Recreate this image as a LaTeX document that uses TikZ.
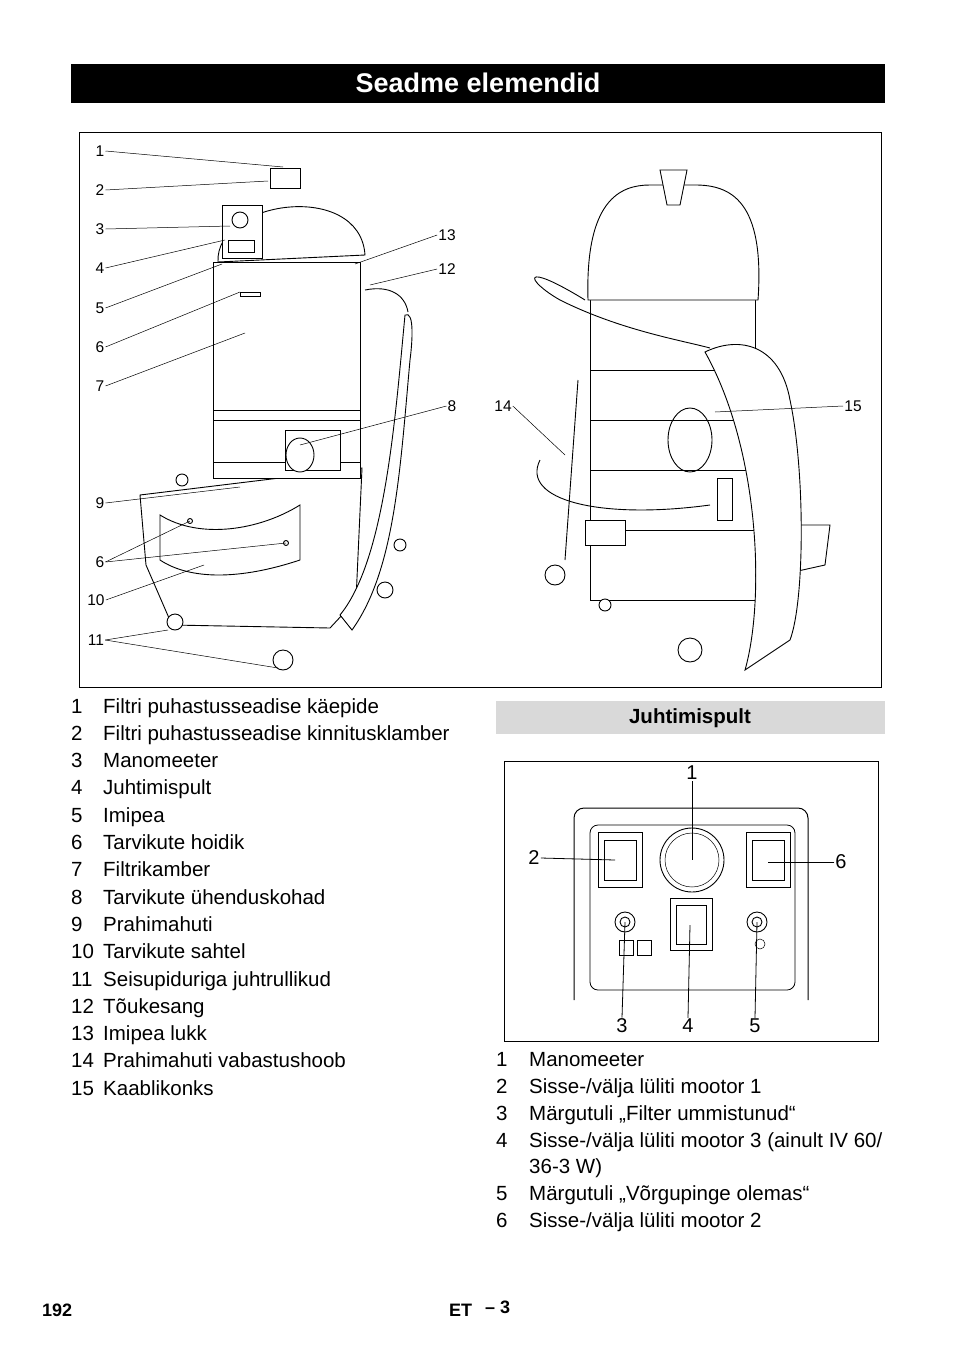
\documentclass[tikz,border=0pt]{standalone}
\usepackage{fontspec}
\setmainfont{Liberation Sans}
\tikzset{
  x=1pt, y=-1pt,
  callout/.style={font=\fontsize{15.5}{18}\selectfont, inner sep=1pt},
  lead/.style={line width=0.5pt},
  part/.style={line width=0.9pt, fill=white},
  item/.style={anchor=base west, font=\fontsize{20.5}{24}\selectfont, inner sep=0pt},
}
\begin{document}
\begin{tikzpicture}
\useasboundingbox (0,0) rectangle (954,1354);

% header
\fill (71,64) rectangle (885,103);
\node[text=white, font=\bfseries\fontsize{27}{30}\selectfont] (title) at (478,83) {Seadme elemendid};

% picture frame
\draw[line width=0.6pt] (79,132) rectangle (881,687);

% left machine
\draw[part] (140,495) -- (362,468) -- (356,600) -- (330,628) -- (172,625) -- (146,565) -- cycle;
\draw[part] (213,262) rectangle (360,478);
\draw[line width=0.7pt] (213,410) -- (360,410) (213,420) -- (360,420) (213,462) -- (360,462);
\draw[part] (285,430) rectangle (340,470);
\draw[part] (300,455) ellipse (14 and 17);
\draw[part] (218,262) .. controls (215,200) and (360,180) .. (365,255) -- cycle;
\draw[part] (222,205) rectangle (262,258);
\draw[part] (240,220) circle (8);
\draw[part] (228,240) rectangle (254,252);
\draw[part] (270,168) rectangle (300,188);
\draw[part] (240,292) rectangle (260,296);
\draw[part] (160,515) .. controls (200,540) and (260,530) .. (300,505) -- (300,560) .. controls (240,580) and (190,580) .. (160,560) -- cycle;
\draw[part] (340,615) .. controls (385,560) and (395,420) .. (405,315) .. controls (415,310) and (412,345) .. (410,360) .. controls (400,470) and (395,570) .. (352,630) -- cycle;
\draw[line width=0.9pt] (365,290) .. controls (390,285) and (405,295) .. (408,312);
\draw[part] (182,480) circle (6);
\draw[part] (190,521) circle (2.5);
\draw[part] (286,543) circle (2.5);
\foreach \cx/\cy/\r in {175/622/8, 283/660/10, 385/590/8, 400/545/6}
  \draw[part] (\cx,\cy) circle (\r);

% right machine
\draw[part] (590,290) rectangle (755,600);
\draw[line width=0.7pt] (590,370) -- (755,370) (590,420) -- (755,420) (590,470) -- (755,470) (590,530) -- (755,530);
\draw[part] (588,300) .. controls (585,200) and (620,185) .. (650,185) -- (695,185) .. controls (730,185) and (765,200) .. (758,300) -- cycle;
\draw[part] (660,170) -- (687,170) -- (680,205) -- (667,205) -- cycle;
\draw[line width=0.9pt] (585,300) .. controls (520,260) and (525,280) .. (560,300) .. controls (620,330) and (680,340) .. (710,348);
\draw[line width=0.9pt] (578,380) -- (565,560);
\draw[line width=0.9pt] (540,460) .. controls (520,500) and (600,520) .. (710,505);
\draw[line width=0.9pt] (690,440) ellipse (22 and 32);
\draw[part] (717,478) rectangle (732,520);
\draw[part] (760,525) -- (830,525) -- (825,565) -- (780,575) -- cycle;
\draw[part] (705,352) .. controls (740,335) and (780,345) .. (790,400) .. controls (805,470) and (805,600) .. (790,640) -- (745,670) .. controls (765,600) and (760,450) .. cycle;
\draw[part] (585,520) rectangle (625,545);
\foreach \cx/\cy/\r in {555/575/10, 690/650/12, 605/605/6}
  \draw[part] (\cx,\cy) circle (\r);

% callout labels
\foreach \n/\lx/\ly in {1/100/151, 2/100/190, 3/100/229, 4/100/268, 5/100/308, 6/100/347,
    7/100/386, 9/100/503, 6/100/562, 10/96/600, 11/96/640}
  \node[callout] (c\n-\ly) at (\lx,\ly) {\n};
\node[callout] (c8) at (452,406) {8};
\node[callout] (c12) at (447,269) {12};
\node[callout] (c13) at (447,235) {13};
\node[callout] (c14) at (503,406) {14};
\node[callout] (c15) at (853,406) {15};

\coordinate (p1) at (283,167);
\coordinate (p2) at (268,181);
\coordinate (p3) at (230,226);
\coordinate (p4) at (225,240);
\coordinate (p5) at (222,264);
\coordinate (p6) at (240,292);
\coordinate (p7) at (245,333);
\coordinate (p8) at (300,445);
\coordinate (p9) at (240,487);
\coordinate (p6a) at (190,521);
\coordinate (p6b) at (286,543);
\coordinate (p10) at (204,565);
\coordinate (p11a) at (168,630);
\coordinate (p11b) at (278,668);
\coordinate (p12) at (370,285);
\coordinate (p13) at (355,264);
\coordinate (p14) at (565,455);
\coordinate (p15) at (715,412);

\draw[lead] (c1-151.east) -- (p1);
\draw[lead] (c2-190.east) -- (p2);
\draw[lead] (c3-229.east) -- (p3);
\draw[lead] (c4-268.east) -- (p4);
\draw[lead] (c5-308.east) -- (p5);
\draw[lead] (c6-347.east) -- (p6);
\draw[lead] (c7-386.east) -- (p7);
\draw[lead] (c8.west) -- (p8);
\draw[lead] (c9-503.east) -- (p9);
\draw[lead] (c6-562.east) -- (p6a);
\draw[lead] (c6-562.east) -- (p6b);
\draw[lead] (c10-600.east) -- (p10);
\draw[lead] (c11-640.east) -- (p11a);
\draw[lead] (c11-640.east) -- (p11b);
\draw[lead] (c12.west) -- (p12);
\draw[lead] (c13.west) -- (p13);
\draw[lead] (c14.east) -- (p14);
\draw[lead] (c15.west) -- (p15);

% left list
\foreach \n/\t [count=\i from 0] in {1/{Filtri puhastusseadise käepide},
    2/{Filtri puhastusseadise kinnitusklamber}, 3/{Manomeeter}, 4/{Juhtimispult},
    5/{Imipea}, 6/{Tarvikute hoidik}, 7/{Filtrikamber}, 8/{Tarvikute ühenduskohad},
    9/{Prahimahuti}, 10/{Tarvikute sahtel}, 11/{Seisupiduriga juhtrullikud},
    12/{Tõukesang}, 13/{Imipea lukk}, 14/{Prahimahuti vabastushoob}, 15/{Kaablikonks}} {
  \node[item] (ln\n) at (71,713+27.3*\i) {\n};
  \node[item] (lt\n) at (103,713+27.3*\i) {\t};
}

% control panel section
\fill[gray!30] (496,701) rectangle (885,734);
\node[font=\bfseries\fontsize{20.5}{24}\selectfont] (sub) at (690,718) {Juhtimispult};
\draw[line width=0.6pt] (504,761) rectangle (878,1041);

\draw[line width=1pt] (574,1000) -- (574,818) arc[start angle=180, end angle=270, radius=10] -- (798,808) arc[start angle=270, end angle=360, radius=10] -- (808,1000);
\draw[line width=0.8pt, rounded corners=8] (590,825) rectangle (795,990);
\draw[part] (598,832) rectangle (642,887);
\draw[part] (604,840) rectangle (636,880);
\draw[part] (746,832) rectangle (790,887);
\draw[part] (752,840) rectangle (784,880);
\draw[part] (692,860) circle (32);
\draw[line width=0.5pt] (692,860) circle (27);
\draw[part] (670,898) rectangle (712,950);
\draw[part] (676,905) rectangle (706,944);
\draw[part] (625,922) circle (10);
\draw[part] (625,922) circle (5);
\draw[part] (757,922) circle (10);
\draw[part] (757,922) circle (5);
\draw[line width=0.5pt] (619,940) rectangle (633,955) (637,940) rectangle (651,955);
\draw[line width=0.5pt] (760,944) circle (5);

\node[callout, font=\fontsize{20}{22}\selectfont] (k1) at (692,773) {1};
\node[callout, font=\fontsize{20}{22}\selectfont] (k2) at (534,858) {2};
\node[callout, font=\fontsize{20}{22}\selectfont] (k6) at (841,862) {6};
\node[callout, font=\fontsize{20}{22}\selectfont] (k3) at (622,1026) {3};
\node[callout, font=\fontsize{20}{22}\selectfont] (k4) at (688,1026) {4};
\node[callout, font=\fontsize{20}{22}\selectfont] (k5) at (755,1026) {5};
\coordinate (q1) at (692,860);
\coordinate (q2) at (615,860);
\coordinate (q6) at (768,862);
\coordinate (q3) at (625,922);
\coordinate (q4) at (690,925);
\coordinate (q5) at (757,922);
\draw[line width=0.8pt] (k1.south) -- (q1);
\draw[line width=0.8pt] (k2.east) -- (q2);
\draw[line width=0.8pt] (k6.west) -- (q6);
\draw[line width=0.8pt] (k3.north) -- (q3);
\draw[line width=0.8pt] (k4.north) -- (q4);
\draw[line width=0.8pt] (k5.north) -- (q5);

% right list
\foreach \n/\t/\yy in {1/{Manomeeter}/1066, 2/{Sisse-/välja lüliti mootor 1}/1093,
    3/{Märgutuli „Filter ummistunud“}/1120, 4/{Sisse-/välja lüliti mootor 3 (ainult IV 60/}/1147,
    5/{Märgutuli „Võrgupinge olemas“}/1200, 6/{Sisse-/välja lüliti mootor 2}/1227} {
  \node[item] (rn\n) at (496,\yy) {\n};
  \node[item] (rt\n) at (529,\yy) {\t};
}
\node[item] (rt4b) at (529,1173) {36-3 W)};

% footer
\node[item, font=\bfseries\fontsize{18}{20}\selectfont] (page) at (42,1316) {192};
\node[item, font=\bfseries\fontsize{18}{20}\selectfont] (lang) at (449,1316) {ET};
\node[item, font=\bfseries\fontsize{18}{20}\selectfont] (num) at (485,1313) {– 3};
\end{tikzpicture}
\end{document}
